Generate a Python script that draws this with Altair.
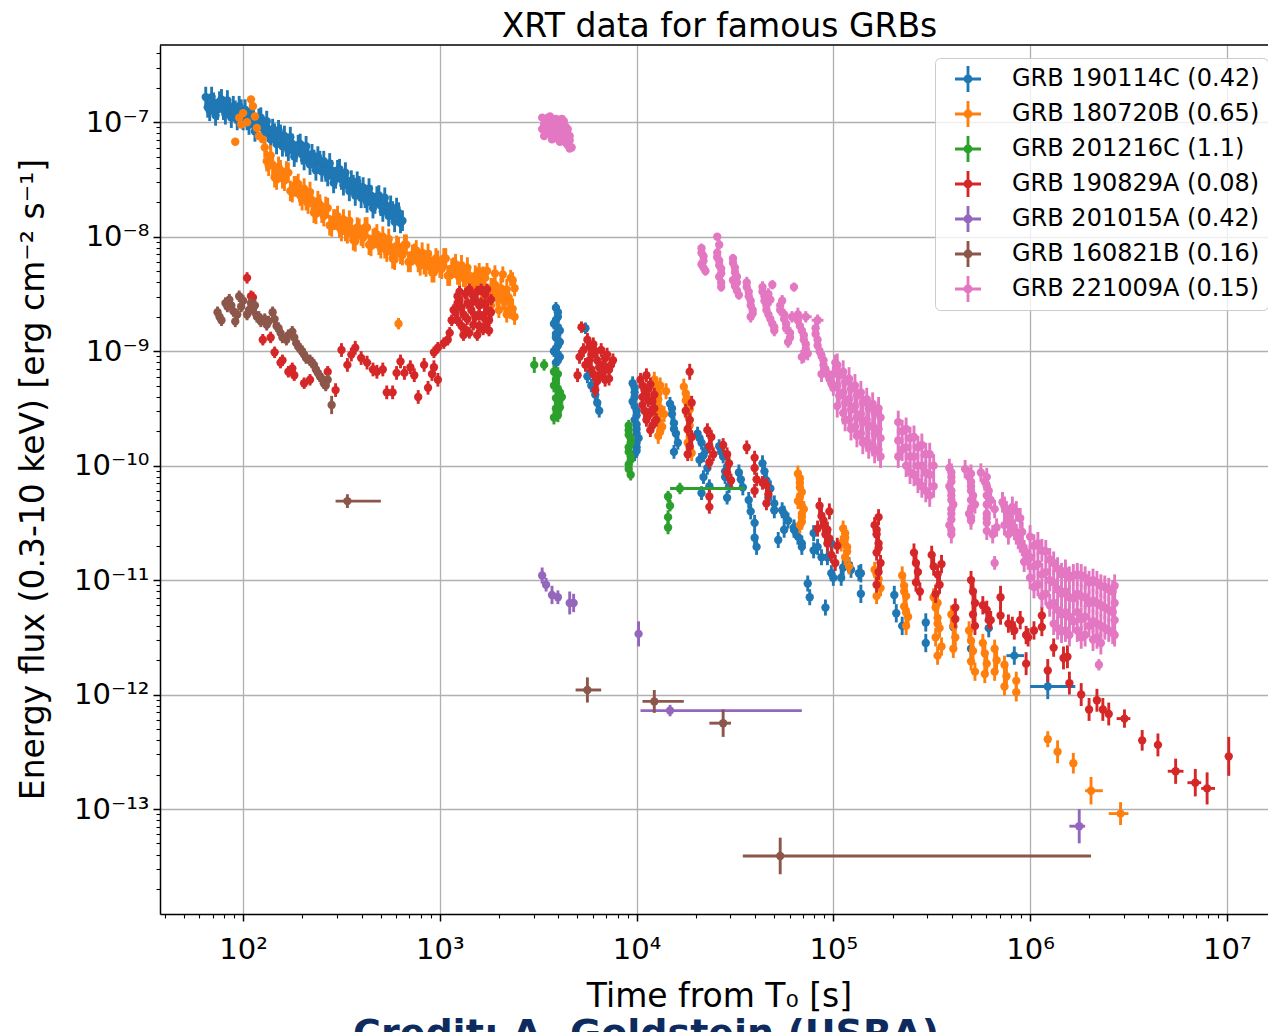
import json

import altair as alt
import pandas as pd

# Swift/XRT light curves of famous GRBs (redshift in brackets).
# Point lists: (log10 time from T0 [s], log10 energy flux [erg cm^-2 s^-1], 1-sigma flux error [dex])
# Binned points: (log10 t, log10 t_start, log10 t_stop, log10 flux, flux error [dex])

grb_names = [
    "GRB 190114C (0.42)",
    "GRB 180720B (0.65)",
    "GRB 201216C (1.1)",
    "GRB 190829A (0.08)",
    "GRB 201015A (0.42)",
    "GRB 160821B (0.16)",
    "GRB 221009A (0.15)",
]
grb_colors = ["#1f77b4", "#ff7f0e", "#2ca02c", "#d62728", "#9467bd", "#8c564b", "#e377c2"]

pts_190114C = [
    (1.81, -6.78, .09), (1.83, -6.90, .09), (1.85, -6.83, .09), (1.87, -6.89, .09), (1.89, -6.80, .09),
    (1.91, -6.93, .09), (1.93, -6.89, .09), (1.95, -6.86, .09), (1.97, -6.98, .09), (1.99, -6.89, .09),
    (2.01, -6.89, .09), (2.03, -7.02, .09), (2.05, -6.97, .09), (2.07, -7.04, .09), (2.09, -6.96, .09),
    (2.11, -7.10, .09), (2.13, -7.08, .09), (2.15, -7.06, .09), (2.17, -7.19, .09), (2.19, -7.11, .09),
    (2.21, -7.12, .09), (2.23, -7.25, .09), (2.25, -7.19, .09), (2.27, -7.26, .09), (2.29, -7.19, .09),
    (2.31, -7.33, .09), (2.33, -7.30, .09), (2.35, -7.28, .09), (2.37, -7.42, .09), (2.39, -7.34, .09),
    (2.41, -7.34, .09), (2.43, -7.47, .09), (2.45, -7.42, .09), (2.47, -7.49, .09), (2.49, -7.41, .09),
    (2.51, -7.55, .09), (2.53, -7.53, .09), (2.55, -7.51, .09), (2.57, -7.64, .09), (2.59, -7.56, .09),
    (2.61, -7.57, .09), (2.63, -7.70, .09), (2.65, -7.64, .09), (2.67, -7.71, .09), (2.69, -7.64, .09),
    (2.71, -7.78, .09), (2.73, -7.75, .09), (2.75, -7.73, .09), (2.77, -7.87, .09), (2.79, -7.79, .09),
    (2.81, -7.86, .09),
    (1.82, -6.87, .09), (1.84, -6.78, .09), (1.86, -6.94, .09), (1.88, -6.82, .09), (1.90, -6.89, .09),
    (1.92, -6.81, .09), (1.94, -6.96, .09), (1.96, -6.90, .09), (1.98, -6.86, .09), (2.00, -6.98, .09),
    (2.02, -6.98, .09), (2.04, -6.91, .09), (2.06, -7.08, .09), (2.08, -6.97, .09), (2.10, -7.05, .09),
    (2.12, -6.99, .09), (2.14, -7.15, .09), (2.16, -7.10, .09), (2.18, -7.07, .09), (2.20, -7.21, .09),
    (2.22, -7.21, .09), (2.24, -7.13, .09), (2.26, -7.30, .09), (2.28, -7.20, .09), (2.30, -7.28, .09),
    (2.32, -7.21, .09), (2.34, -7.37, .09), (2.36, -7.33, .09), (2.38, -7.30, .09), (2.40, -7.43, .09),
    (2.42, -7.43, .09), (2.44, -7.36, .09), (2.46, -7.53, .09), (2.48, -7.42, .09), (2.50, -7.50, .09),
    (2.52, -7.44, .09), (2.54, -7.60, .09), (2.56, -7.55, .09), (2.58, -7.52, .09), (2.60, -7.66, .09),
    (2.62, -7.66, .09), (2.64, -7.58, .09), (2.66, -7.75, .09), (2.68, -7.65, .09), (2.70, -7.73, .09),
    (2.72, -7.66, .09), (2.74, -7.82, .09), (2.76, -7.78, .09), (2.78, -7.75, .09), (2.80, -7.88, .09),
    (3.59, -8.62, .05), (3.60, -8.70, .05), (3.58, -8.76, .05), (3.61, -8.82, .05), (3.59, -8.88, .05),
    (3.60, -8.95, .05), (3.58, -9.00, .05), (3.61, -9.05, .05), (3.59, -9.10, .05),
    (3.60, -8.66, .05), (3.59, -8.73, .05), (3.60, -8.79, .05), (3.59, -8.85, .05), (3.61, -8.92, .05),
    (3.59, -8.98, .05), (3.60, -9.03, .05), (3.60, -9.08, .05),
    (3.74, -8.80, .05), (3.75, -9.22, .06), (3.77, -9.30, .06), (3.79, -9.38, .06), (3.80, -9.45, .06),
    (3.81, -9.52, .06),
    (3.98, -9.28, .06), (3.99, -9.36, .06), (3.98, -9.44, .06), (4.00, -9.52, .06), (3.99, -9.60, .06),
    (4.00, -9.68, .06), (4.01, -9.76, .06), (4.00, -9.84, .06), (3.99, -9.90, .06),
    (3.99, -9.32, .06), (3.99, -9.40, .06), (3.99, -9.48, .06), (4.00, -9.56, .06), (4.00, -9.64, .06),
    (4.00, -9.72, .06), (4.00, -9.80, .06), (4.00, -9.87, .06),
    (4.17, -9.46, .06), (4.18, -9.55, .06), (4.19, -9.63, .06), (4.20, -9.72, .06), (4.21, -9.80, .06),
    (4.19, -9.88, .06), (4.18, -9.50, .06), (4.19, -9.68, .06),
    (4.31, -9.72, .06), (4.33, -9.80, .06), (4.35, -9.87, .06), (4.32, -9.95, .06), (4.36, -10.02, .06),
    (4.34, -10.10, .06), (4.37, -10.18, .06), (4.33, -10.24, .06), (4.32, -9.76, .06), (4.34, -9.91, .06),
    (4.42, -9.83, .06), (4.44, -9.92, .06), (4.46, -10.01, .06), (4.45, -10.10, .06), (4.47, -10.18, .06),
    (4.46, -10.28, .06), (4.43, -9.88, .06), (4.45, -10.05, .06),
    (4.52, -10.06, .07), (4.54, -10.19, .07), (4.57, -10.30, .07), (4.60, -10.50, .07), (4.60, -10.63, .07),
    (4.61, -10.71, .07), (4.53, -10.12, .07), (4.58, -10.40, .07),
    (4.64, -9.98, .07), (4.66, -10.13, .07), (4.67, -10.28, .07), (4.70, -10.33, .07), (4.70, -10.39, .07),
    (4.72, -10.65, .07), (4.74, -10.39, .07), (4.75, -10.42, .07), (4.75, -10.56, .07), (4.80, -10.54, .07),
    (4.80, -10.56, .07), (4.84, -10.68, .07), (4.84, -10.71, .07), (4.87, -11.03, .07), (4.88, -11.15, .07),
    (4.90, -10.59, .07), (4.90, -10.74, .07), (4.92, -10.71, .07), (4.94, -10.80, .07), (4.96, -11.24, .07),
    (4.97, -10.80, .07), (4.99, -10.68, .07), (4.99, -10.94, .07), (5.00, -10.98, .07), (5.04, -10.98, .07),
    (5.05, -10.89, .07), (5.08, -10.87, .07), (5.09, -10.91, .07), (5.13, -10.94, .07), (5.14, -10.94, .08),
    (5.14, -11.12, .08), (4.65, -10.05, .07), (4.68, -10.20, .07), (4.77, -10.48, .07), (4.82, -10.62, .07),
    (5.31, -11.13, .08), (5.32, -11.29, .08), (5.35, -11.40, .08), (5.47, -11.37, .08), (5.47, -11.55, .08),
    (5.61, -11.41, .08), (5.70, -11.60, .08), (5.79, -11.42, .08),
]
bins_190114C = [(5.92, 5.88, 5.97, -11.66, .08), (6.09, 6.00, 6.23, -11.93, .11)]

pts_180720B = [
    (2.04, -6.80, .03), (2.05, -6.86, .03), (1.98, -6.96, .03), (2.00, -6.92, .03), (2.02, -7.00, .03),
    (1.99, -7.02, .03), (2.06, -6.95, .03), (2.07, -7.05, .03), (2.08, -7.12, .03), (2.10, -7.15, .03),
    (1.96, -7.17, .03),
    (2.11, -7.22, .09), (2.13, -7.38, .09), (2.15, -7.37, .09), (2.17, -7.50, .09), (2.19, -7.42, .09),
    (2.21, -7.51, .09), (2.23, -7.44, .09), (2.25, -7.61, .09), (2.27, -7.56, .09), (2.29, -7.64, .09),
    (2.31, -7.58, .09), (2.33, -7.71, .09), (2.35, -7.68, .09), (2.37, -7.80, .09), (2.39, -7.72, .09),
    (2.41, -7.82, .09), (2.43, -7.75, .09), (2.45, -7.91, .09), (2.47, -7.85, .09), (2.49, -7.92, .09),
    (2.51, -7.85, .09), (2.53, -7.97, .09), (2.55, -7.93, .09), (2.57, -8.04, .09), (2.59, -7.93, .09),
    (2.61, -8.01, .09), (2.63, -7.92, .09), (2.65, -8.08, .09), (2.67, -8.01, .09), (2.69, -8.07, .09),
    (2.71, -8.00, .09), (2.73, -8.13, .09), (2.75, -8.09, .09), (2.77, -8.20, .09), (2.79, -8.09, .09),
    (2.81, -8.16, .09), (2.83, -8.07, .09), (2.85, -8.22, .09), (2.87, -8.15, .09), (2.89, -8.22, .09),
    (2.91, -8.14, .09), (2.93, -8.26, .09), (2.95, -8.21, .09), (2.97, -8.31, .09), (2.99, -8.21, .09),
    (3.01, -8.28, .09), (3.03, -8.19, .09), (3.05, -8.34, .09), (3.07, -8.27, .09), (3.09, -8.33, .09),
    (3.11, -8.25, .09), (3.13, -8.38, .09), (3.15, -8.34, .09), (3.17, -8.45, .09), (3.19, -8.36, .09),
    (3.21, -8.44, .09), (3.23, -8.36, .09), (3.25, -8.51, .09), (3.27, -8.45, .09), (3.29, -8.52, .09),
    (3.31, -8.45, .09), (3.33, -8.57, .09), (3.35, -8.53, .09), (3.37, -8.63, .09),
    (2.12, -7.34, .09), (2.14, -7.29, .09), (2.16, -7.48, .09), (2.18, -7.39, .09), (2.20, -7.49, .09),
    (2.22, -7.43, .09), (2.24, -7.60, .09), (2.26, -7.56, .09), (2.28, -7.54, .09), (2.30, -7.68, .09),
    (2.32, -7.68, .09), (2.34, -7.61, .09), (2.36, -7.79, .09), (2.38, -7.69, .09), (2.40, -7.79, .09),
    (2.42, -7.74, .09), (2.44, -7.90, .09), (2.46, -7.85, .09), (2.48, -7.82, .09), (2.50, -7.95, .09),
    (2.52, -7.95, .09), (2.54, -7.86, .09), (2.56, -8.03, .09), (2.58, -7.92, .09), (2.60, -7.99, .09),
    (2.62, -7.92, .09), (2.64, -8.07, .09), (2.66, -8.02, .09), (2.68, -7.98, .09), (2.70, -8.10, .09),
    (2.72, -8.10, .09), (2.74, -8.02, .09), (2.76, -8.19, .09), (2.78, -8.08, .09), (2.80, -8.15, .09),
    (2.82, -8.07, .09), (2.84, -8.22, .09), (2.86, -8.16, .09), (2.88, -8.12, .09), (2.90, -8.25, .09),
    (2.92, -8.24, .09), (2.94, -8.15, .09), (2.96, -8.31, .09), (2.98, -8.19, .09), (3.00, -8.27, .09),
    (3.02, -8.19, .09), (3.04, -8.34, .09), (3.06, -8.28, .09), (3.08, -8.24, .09), (3.10, -8.36, .09),
    (3.12, -8.35, .09), (3.14, -8.27, .09), (3.16, -8.44, .09), (3.18, -8.34, .09), (3.20, -8.42, .09),
    (3.22, -8.35, .09), (3.24, -8.51, .09), (3.26, -8.45, .09), (3.28, -8.42, .09), (3.30, -8.55, .09),
    (3.32, -8.55, .09), (3.34, -8.46, .09), (3.36, -8.63, .09),
    (3.20, -8.30, .07), (3.24, -8.30, .07), (3.28, -8.32, .07), (3.32, -8.33, .07), (3.36, -8.36, .07),
    (3.22, -8.55, .07), (3.26, -8.60, .07), (3.30, -8.64, .07), (3.34, -8.68, .07), (3.38, -8.70, .07),
    (3.38, -8.45, .07), (3.37, -8.38, .07),
    (2.79, -8.76, .05),
    (4.09, -9.25, .07), (4.12, -9.30, .07), (4.10, -9.33, .07), (4.09, -9.40, .07), (4.11, -9.42, .07),
    (4.12, -9.50, .07), (4.10, -9.58, .07), (4.13, -9.66, .07), (4.11, -9.74, .07), (4.15, -9.35, .07),
    (4.14, -9.55, .07), (4.10, -9.29, .07), (4.11, -9.37, .07), (4.10, -9.46, .07), (4.12, -9.54, .07),
    (4.11, -9.62, .07), (4.12, -9.70, .07),
    (4.24, -9.31, .07), (4.25, -9.43, .07), (4.26, -9.42, .07), (4.27, -9.51, .07), (4.26, -9.69, .07),
    (4.26, -9.80, .07), (4.28, -9.89, .07), (4.27, -9.60, .07), (4.25, -9.37, .07), (4.26, -9.47, .07),
    (4.26, -9.56, .07), (4.27, -9.65, .07), (4.27, -9.75, .07), (4.27, -9.85, .07),
    (4.82, -10.07, .07), (4.83, -10.15, .07), (4.84, -10.23, .07), (4.82, -10.31, .07), (4.85, -10.38, .07),
    (4.84, -10.45, .07), (4.83, -10.52, .07), (4.83, -10.11, .07), (4.83, -10.19, .07), (4.83, -10.27, .07),
    (4.84, -10.35, .07), (4.84, -10.42, .07), (4.84, -10.49, .07),
    (5.05, -10.55, .07), (5.06, -10.63, .07), (5.07, -10.71, .07), (5.06, -10.80, .07), (5.08, -10.88, .07),
    (5.04, -10.68, .07), (5.06, -10.59, .07), (5.07, -10.75, .07),
    (5.21, -10.91, .07), (5.23, -10.99, .07), (5.24, -11.07, .07), (5.22, -11.14, .07), (5.22, -10.95, .07),
    (5.35, -10.96, .08), (5.36, -11.05, .08), (5.37, -11.14, .08), (5.36, -11.23, .08), (5.38, -11.32, .08),
    (5.37, -11.40, .08), (5.36, -11.10, .08), (5.37, -11.28, .08),
    (5.51, -11.15, .08), (5.52, -11.24, .08), (5.53, -11.33, .08), (5.54, -11.42, .08), (5.52, -11.50, .08),
    (5.55, -11.58, .08), (5.53, -11.66, .08), (5.53, -11.20, .08), (5.53, -11.38, .08),
    (5.60, -11.30, .08), (5.61, -11.40, .08), (5.62, -11.50, .08), (5.61, -11.60, .08),
    (5.69, -11.44, .08), (5.70, -11.53, .08), (5.71, -11.62, .08), (5.70, -11.71, .08), (5.72, -11.80, .08),
    (5.76, -11.55, .08), (5.77, -11.64, .08), (5.78, -11.73, .08), (5.77, -11.82, .08),
    (5.82, -11.60, .08), (5.83, -11.70, .08), (5.82, -11.80, .08),
    (5.87, -11.74, .08), (5.88, -11.84, .08), (5.87, -11.93, .08),
    (5.93, -11.88, .08), (5.93, -11.98, .08),
    (6.09, -12.39, .07), (6.14, -12.50, .10), (6.22, -12.60, .09),
]
bins_180720B = [(6.31, 6.28, 6.37, -12.84, .12), (6.46, 6.40, 6.50, -13.04, .10)]

pts_201216C = [
    (3.48, -9.12, .07), (3.53, -9.12, .05), (3.58, -9.18, .06), (3.59, -9.25, .06), (3.60, -9.33, .06),
    (3.58, -9.30, .06), (3.59, -9.41, .06), (3.62, -9.40, .06), (3.61, -9.49, .06), (3.60, -9.56, .06),
    (3.59, -9.50, .06), (3.60, -9.20, .06), (3.59, -9.28, .06), (3.61, -9.36, .06), (3.60, -9.45, .06),
    (3.60, -9.52, .06), (3.58, -9.58, .06),
    (3.96, -9.65, .05), (3.96, -9.73, .05), (3.97, -9.80, .05), (3.96, -9.88, .05), (3.97, -9.95, .05),
    (3.96, -10.03, .05), (3.97, -10.08, .05), (3.96, -9.69, .05), (3.97, -9.76, .05), (3.96, -9.84, .05),
    (3.97, -9.92, .05), (3.96, -9.99, .05),
    (4.16, -10.27, .05), (4.17, -10.35, .05), (4.16, -10.45, .06), (4.16, -10.54, .06),
]
bins_201216C = [(4.22, 4.17, 4.55, -10.20, .05)]

pts_190829A = [
    (2.02, -8.36, .05), (2.04, -8.52, .05), (2.05, -8.53, .05), (2.10, -8.90, .05), (2.14, -8.88, .05),
    (2.16, -9.01, .05), (2.19, -9.10, .05), (2.20, -9.08, .05), (2.23, -9.18, .05), (2.25, -9.15, .05),
    (2.26, -9.21, .05), (2.31, -9.28, .05), (2.34, -9.25, .05), (2.43, -9.18, .05), (2.47, -9.34, .06),
    (2.50, -8.99, .06), (2.53, -9.12, .06), (2.55, -9.03, .06), (2.57, -8.97, .06), (2.60, -9.06, .06),
    (2.63, -9.10, .06), (2.66, -9.16, .06), (2.68, -9.18, .06), (2.71, -9.16, .06), (2.73, -9.36, .06),
    (2.76, -9.36, .06), (2.78, -9.19, .06), (2.80, -9.09, .06), (2.82, -9.19, .06), (2.85, -9.14, .06),
    (2.87, -9.21, .06), (2.89, -9.40, .06), (2.92, -9.12, .06), (2.94, -9.32, .06), (2.96, -9.20, .06),
    (2.97, -9.14, .06), (2.99, -9.25, .06),
    (2.97, -9.01, .05), (2.99, -8.97, .05), (3.02, -8.93, .05), (3.04, -8.90, .05), (3.05, -8.84, .05),
    (3.06, -8.73, .05), (3.07, -8.64, .05), (3.09, -8.58, .05), (3.09, -8.52, .05),
    (3.10, -8.55, .05), (3.12, -8.68, .05), (3.13, -8.81, .05), (3.15, -8.46, .05), (3.16, -8.64, .05),
    (3.17, -8.77, .05), (3.18, -8.55, .05), (3.20, -8.68, .05), (3.21, -8.46, .05), (3.22, -8.81, .05),
    (3.23, -8.59, .05), (3.24, -8.46, .05), (3.25, -8.73, .05), (3.26, -8.55, .05), (3.12, -8.86, .05),
    (3.19, -8.86, .05), (3.09, -8.73, .05), (3.14, -8.58, .05), (3.20, -8.60, .05), (3.23, -8.78, .05),
    (3.11, -8.62, .05), (3.13, -8.50, .05), (3.14, -8.72, .05), (3.15, -8.84, .05), (3.17, -8.52, .05),
    (3.18, -8.70, .05), (3.19, -8.48, .05), (3.21, -8.58, .05), (3.22, -8.70, .05), (3.23, -8.50, .05),
    (3.24, -8.64, .05), (3.25, -8.82, .05), (3.26, -8.66, .05), (3.20, -8.78, .05), (3.16, -8.58, .05),
    (3.11, -8.78, .05), (3.08, -8.66, .05), (3.10, -8.48, .05),
    (3.72, -8.79, .05), (3.70, -9.21, .06), (3.73, -8.99, .06), (3.75, -8.90, .06), (3.77, -9.03, .06),
    (3.78, -8.94, .06), (3.80, -9.08, .06), (3.82, -8.99, .06), (3.83, -9.12, .06), (3.85, -9.03, .06),
    (3.86, -9.16, .06), (3.88, -9.08, .06), (3.81, -9.21, .06), (3.77, -9.16, .06), (3.84, -9.25, .06),
    (3.74, -9.12, .06), (3.79, -9.34, .06), (3.71, -9.05, .06), (3.76, -8.96, .06), (3.79, -9.00, .06),
    (3.81, -9.14, .06), (3.84, -9.06, .06), (3.87, -9.12, .06), (3.83, -9.18, .06), (3.76, -9.08, .06),
    (3.80, -9.26, .06), (3.86, -9.24, .06), (3.78, -9.20, .06),
    (4.02, -9.25, .06), (4.04, -9.34, .06), (4.05, -9.21, .06), (4.06, -9.43, .06), (4.07, -9.29, .06),
    (4.08, -9.51, .06), (4.09, -9.38, .06), (4.05, -9.60, .06), (4.07, -9.69, .06), (4.10, -9.60, .06),
    (4.03, -9.47, .06), (4.03, -9.30, .06), (4.05, -9.38, .06), (4.06, -9.33, .06), (4.08, -9.44, .06),
    (4.04, -9.52, .06), (4.09, -9.50, .06), (4.06, -9.56, .06), (4.08, -9.65, .06), (4.03, -9.40, .06),
    (4.27, -9.18, .07),
    (4.25, -9.52, .06), (4.27, -9.60, .06), (4.26, -9.68, .06), (4.28, -9.75, .06), (4.27, -9.83, .06),
    (4.26, -9.90, .06), (4.28, -9.45, .06),
    (4.36, -9.69, .06), (4.38, -9.75, .06), (4.37, -9.83, .06), (4.39, -9.90, .06), (4.37, -9.97, .06),
    (4.37, -10.27, .06), (4.37, -10.36, .06),
    (4.44, -9.82, .06), (4.46, -9.90, .06), (4.47, -9.98, .06), (4.46, -10.06, .06), (4.48, -10.13, .06),
    (4.56, -9.84, .06), (4.60, -9.93, .06), (4.60, -10.02, .06), (4.61, -10.12, .06), (4.60, -10.22, .06),
    (4.64, -10.15, .06), (4.66, -10.17, .06), (4.67, -10.25, .06), (4.66, -10.33, .06),
    (4.93, -10.35, .07), (4.94, -10.44, .07), (4.95, -10.52, .07), (4.96, -10.60, .07), (4.97, -10.68, .07),
    (4.99, -10.78, .07), (5.01, -10.85, .07), (4.98, -10.40, .07), (4.92, -10.55, .07), (5.02, -10.70, .07),
    (4.95, -10.48, .07), (4.97, -10.56, .07), (4.98, -10.64, .07),
    (5.23, -10.45, .07), (5.21, -10.52, .07), (5.22, -10.60, .07), (5.23, -10.68, .07), (5.22, -10.76, .07),
    (5.24, -10.85, .07), (5.23, -10.93, .07), (5.22, -11.04, .07), (5.22, -10.56, .07), (5.23, -10.72, .07),
    (5.41, -10.76, .08), (5.42, -10.85, .08), (5.43, -10.93, .08), (5.42, -11.02, .08), (5.44, -11.10, .08),
    (5.50, -10.78, .08), (5.51, -10.88, .08), (5.53, -10.95, .08), (5.54, -11.04, .08), (5.52, -11.12, .08),
    (5.55, -10.86, .08),
    (5.62, -11.24, .08), (5.62, -11.34, .08),
    (5.70, -11.00, .08), (5.71, -11.10, .08), (5.72, -11.20, .08), (5.71, -11.30, .08), (5.72, -11.40, .08),
    (5.76, -11.22, .08), (5.78, -11.26, .08), (5.79, -11.35, .08), (5.80, -11.35, .08),
    (5.85, -11.15, .10), (5.85, -11.31, .08), (5.89, -11.38, .08), (5.91, -11.40, .08), (5.92, -11.44, .08),
    (5.95, -11.35, .08), (5.98, -11.48, .08), (5.99, -11.50, .08), (6.02, -11.44, .08), (6.06, -11.31, .08),
    (6.06, -11.41, .08),
    (5.98, -11.73, .10), (6.09, -11.79, .10), (6.12, -11.59, .08), (6.17, -11.68, .10), (6.19, -11.67, .10),
    (6.20, -11.90, .10), (6.26, -12.00, .10), (6.30, -12.13, .10), (6.34, -12.05, .10), (6.37, -12.13, .10),
    (6.40, -12.17, .10), (6.57, -12.40, .09), (6.65, -12.44, .10), (7.01, -12.54, .17),
]
bins_190829A = [
    (6.48, 6.44, 6.51, -12.21, .08), (6.74, 6.70, 6.78, -12.67, .11),
    (6.84, 6.80, 6.87, -12.77, .12), (6.90, 6.87, 6.94, -12.82, .14),
]

pts_201015A = [
    (3.52, -10.96, .07), (3.54, -11.04, .06), (3.57, -11.13, .08), (3.60, -11.15, .06),
    (3.66, -11.20, .10), (3.68, -11.20, .08), (4.01, -11.47, .11),
]
bins_201015A = [(4.17, 4.02, 4.84, -12.14, .05), (6.25, 6.20, 6.28, -13.15, .15)]

pts_160821B = [
    (1.87, -8.66, .05), (1.89, -8.73, .05), (1.92, -8.61, .05), (1.93, -8.55, .05), (1.95, -8.65, .05),
    (1.96, -8.74, .05), (1.98, -8.52, .05), (1.99, -8.61, .05), (2.02, -8.68, .05), (2.04, -8.58, .05),
    (2.05, -8.64, .05), (2.07, -8.70, .05), (2.09, -8.74, .05), (2.12, -8.77, .05), (2.15, -8.66, .05),
    (2.17, -8.78, .05), (2.19, -8.84, .05), (2.22, -8.90, .05), (2.25, -8.83, .05), (2.27, -8.93, .05),
    (2.29, -8.98, .05), (2.31, -9.03, .05), (2.34, -9.08, .05), (2.36, -9.12, .05), (2.38, -9.19, .05),
    (2.39, -9.22, .05), (2.41, -9.28, .05), (2.43, -9.25, .05), (2.45, -9.47, .08),
    (1.88, -8.70, .05), (1.91, -8.58, .05), (1.94, -8.60, .05), (1.97, -8.68, .05), (2.00, -8.56, .05),
    (2.03, -8.64, .05), (2.06, -8.60, .05), (2.08, -8.70, .05), (2.11, -8.72, .05), (2.13, -8.74, .05),
    (2.16, -8.72, .05), (2.18, -8.80, .05), (2.20, -8.88, .05), (2.23, -8.86, .05), (2.26, -8.88, .05),
    (2.28, -8.96, .05), (2.30, -9.00, .05), (2.32, -9.06, .05), (2.35, -9.10, .05), (2.37, -9.16, .05),
    (2.40, -9.24, .05), (2.42, -9.30, .05),
]
bins_160821B = [
    (2.53, 2.47, 2.70, -10.31, .06), (3.75, 3.69, 3.82, -11.96, .11), (4.09, 4.03, 4.24, -12.06, .10),
    (4.44, 4.37, 4.48, -12.25, .12), (4.73, 4.54, 6.31, -13.41, .16),
]

pts_221009A = [
    (3.52, -6.96, .02), (3.52, -7.06, .02), (3.53, -7.12, .02), (3.54, -6.98, .02), (3.55, -7.04, .02),
    (3.56, -6.95, .02), (3.56, -7.10, .02), (3.57, -7.00, .02), (3.58, -7.06, .02), (3.58, -7.14, .02),
    (3.59, -6.97, .02), (3.60, -7.03, .02), (3.60, -7.10, .02), (3.61, -7.17, .02), (3.62, -6.97, .02),
    (3.62, -7.06, .02), (3.63, -7.12, .02), (3.64, -7.04, .02), (3.64, -7.18, .02), (3.65, -7.10, .02),
    (3.66, -7.16, .02), (3.67, -7.22, .02), (3.66, -7.23, .02),
    (3.53, -7.02, .02), (3.54, -7.08, .02), (3.55, -6.96, .02), (3.57, -7.08, .02), (3.58, -7.01, .02),
    (3.59, -7.12, .02), (3.61, -7.00, .02), (3.61, -7.07, .02), (3.63, -6.99, .02), (3.63, -7.16, .02),
    (3.65, -7.06, .02), (3.65, -7.20, .02), (3.66, -7.12, .02), (3.62, -7.14, .02), (3.57, -7.15, .02),
    (4.33, -8.10, .04), (4.34, -8.17, .04), (4.33, -8.24, .04), (4.35, -8.30, .04), (4.41, -8.00, .03),
    (4.33, -8.14, .04), (4.34, -8.21, .04), (4.34, -8.27, .04),
    (4.41, -8.14, .04), (4.42, -8.21, .04), (4.43, -8.28, .04), (4.42, -8.35, .04), (4.43, -8.44, .04),
    (4.42, -8.07, .04), (4.41, -8.18, .04), (4.42, -8.25, .04), (4.43, -8.32, .04), (4.43, -8.40, .04),
    (4.49, -8.19, .04), (4.50, -8.27, .04), (4.51, -8.35, .04), (4.50, -8.43, .04), (4.52, -8.51, .04),
    (4.49, -8.38, .04), (4.49, -8.23, .04), (4.50, -8.31, .04), (4.51, -8.40, .04), (4.51, -8.47, .04),
    (4.56, -8.40, .05), (4.57, -8.48, .05), (4.58, -8.56, .05), (4.59, -8.64, .05), (4.58, -8.70, .05),
    (4.56, -8.44, .05), (4.57, -8.52, .05), (4.58, -8.60, .05), (4.59, -8.67, .05),
    (4.64, -8.44, .05), (4.65, -8.52, .05), (4.66, -8.60, .05), (4.67, -8.68, .05), (4.69, -8.76, .05),
    (4.70, -8.82, .05), (4.68, -8.55, .05), (4.69, -8.42, .04), (4.80, -8.44, .04),
    (4.64, -8.48, .05), (4.65, -8.56, .05), (4.66, -8.64, .05), (4.68, -8.72, .05), (4.70, -8.79, .05),
    (4.67, -8.50, .05),
    (4.73, -8.60, .05), (4.75, -8.68, .05), (4.76, -8.76, .05), (4.78, -8.84, .05), (4.77, -8.92, .05),
    (4.79, -8.70, .05), (4.73, -8.64, .05), (4.75, -8.72, .05), (4.76, -8.80, .05), (4.78, -8.88, .05),
    (4.74, -8.56, .05),
    (4.82, -8.68, .06), (4.83, -8.78, .06), (4.85, -8.86, .06), (4.86, -8.94, .06), (4.87, -9.02, .06),
    (4.84, -9.05, .06), (4.82, -8.73, .06), (4.84, -8.82, .06), (4.85, -8.90, .06), (4.86, -8.98, .06),
    (4.85, -9.04, .06),
    (4.91, -8.80, .07), (4.92, -8.90, .07), (4.93, -9.00, .07), (4.95, -9.08, .07), (4.96, -9.16, .07),
    (4.98, -9.24, .07), (5.00, -9.32, .07), (4.94, -9.20, .07), (5.01, -9.10, .07),
    (4.91, -8.85, .07), (4.92, -8.95, .07), (4.94, -9.04, .07), (4.95, -9.12, .07), (4.97, -9.20, .07),
    (4.99, -9.28, .07), (5.00, -9.20, .07),
    (5.02, -9.12, .10), (5.02, -9.30, .10), (5.02, -9.48, .10), (5.05, -9.18, .10), (5.05, -9.36, .10),
    (5.05, -9.54, .10), (5.08, -9.24, .10), (5.08, -9.42, .10), (5.08, -9.60, .10), (5.11, -9.30, .10),
    (5.11, -9.48, .10), (5.11, -9.66, .10), (5.14, -9.36, .10), (5.14, -9.55, .10), (5.14, -9.72, .10),
    (5.17, -9.42, .10), (5.17, -9.60, .10), (5.17, -9.78, .10), (5.20, -9.46, .10), (5.20, -9.65, .10),
    (5.20, -9.82, .10), (5.23, -9.50, .10), (5.23, -9.68, .10), (5.23, -9.86, .10),
    (5.03, -9.21, .10), (5.03, -9.39, .10), (5.06, -9.27, .10), (5.06, -9.45, .10), (5.06, -9.60, .10),
    (5.09, -9.33, .10), (5.09, -9.51, .10), (5.09, -9.68, .10), (5.12, -9.39, .10), (5.12, -9.58, .10),
    (5.12, -9.74, .10), (5.15, -9.45, .10), (5.15, -9.62, .10), (5.15, -9.80, .10), (5.18, -9.50, .10),
    (5.18, -9.66, .10), (5.18, -9.84, .10), (5.21, -9.54, .10), (5.21, -9.72, .10), (5.21, -9.88, .10),
    (5.24, -9.58, .10), (5.24, -9.76, .10), (5.24, -9.92, .10),
    (5.33, -9.62, .10), (5.33, -9.78, .10), (5.33, -9.92, .10), (5.37, -9.68, .10), (5.37, -9.84, .10),
    (5.37, -10.00, .10), (5.41, -9.75, .10), (5.41, -9.92, .10), (5.41, -10.08, .10), (5.45, -9.82, .10),
    (5.45, -10.00, .10), (5.45, -10.18, .10), (5.49, -9.90, .10), (5.49, -10.08, .10), (5.49, -10.26, .10),
    (5.35, -9.70, .10), (5.35, -9.86, .10), (5.39, -9.76, .10), (5.39, -9.92, .10), (5.39, -10.06, .10),
    (5.43, -9.84, .10), (5.43, -10.00, .10), (5.43, -10.14, .10), (5.47, -9.90, .10), (5.47, -10.06, .10),
    (5.47, -10.22, .10), (5.51, -10.00, .10), (5.51, -10.18, .10),
    (5.59, -10.02, .08), (5.60, -10.10, .08), (5.59, -10.18, .08), (5.60, -10.26, .08), (5.61, -10.34, .08),
    (5.60, -10.42, .08), (5.59, -10.52, .08), (5.60, -10.60, .08),
    (5.60, -10.06, .08), (5.60, -10.14, .08), (5.60, -10.22, .08), (5.60, -10.30, .08), (5.60, -10.38, .08),
    (5.60, -10.47, .08), (5.60, -10.56, .08),
    (5.67, -10.03, .08), (5.69, -10.10, .08), (5.70, -10.18, .08), (5.71, -10.26, .08), (5.72, -10.34, .08),
    (5.69, -10.42, .08), (5.70, -10.48, .08),
    (5.70, -10.07, .08), (5.70, -10.14, .08), (5.70, -10.22, .08), (5.70, -10.30, .08), (5.70, -10.38, .08),
    (5.70, -10.45, .08),
    (5.75, -10.06, .08), (5.77, -10.14, .08), (5.79, -10.22, .08), (5.80, -10.30, .08), (5.82, -10.38, .08),
    (5.78, -10.46, .08), (5.83, -10.54, .08), (5.81, -10.60, .08), (5.82, -10.85, .06),
    (5.78, -10.10, .08), (5.78, -10.18, .08), (5.78, -10.26, .08), (5.78, -10.34, .08), (5.78, -10.42, .08),
    (5.78, -10.50, .08), (5.78, -10.57, .08),
    (5.86, -10.32, .09), (5.88, -10.40, .09), (5.90, -10.48, .09), (5.92, -10.56, .09), (5.94, -10.64, .09),
    (5.96, -10.70, .09), (5.98, -10.78, .09), (5.89, -10.60, .09), (5.95, -10.46, .09), (5.91, -10.36, .09),
    (5.97, -10.84, .09), (5.87, -10.52, .09),
    (5.87, -10.36, .09), (5.89, -10.44, .09), (5.91, -10.52, .09), (5.93, -10.60, .09), (5.95, -10.67, .09),
    (5.97, -10.74, .09), (5.99, -10.82, .09), (5.93, -10.40, .09), (5.96, -10.58, .09),
    (6.00, -10.62, .10), (6.00, -10.80, .10), (6.00, -10.98, .10),
    (6.02, -10.70, .10), (6.02, -10.88, .10), (6.02, -11.06, .10),
    (6.04, -10.68, .10), (6.04, -10.86, .10), (6.04, -11.04, .10),
    (6.06, -10.74, .10), (6.06, -10.95, .10), (6.06, -11.14, .10),
    (6.08, -10.75, .10), (6.08, -10.93, .10), (6.08, -11.12, .10),
    (6.10, -10.82, .10), (6.10, -11.00, .10), (6.10, -11.22, .10),
    (6.12, -10.85, .10), (6.12, -11.02, .10), (6.12, -11.20, .10), (6.12, -11.38, .10),
    (6.14, -10.90, .10), (6.14, -11.08, .10), (6.14, -11.26, .10), (6.14, -11.42, .10),
    (6.16, -10.95, .10), (6.16, -11.12, .10), (6.16, -11.30, .10), (6.16, -11.45, .10),
    (6.18, -10.92, .10), (6.18, -11.10, .10), (6.18, -11.28, .10), (6.18, -11.44, .10),
    (6.20, -10.98, .10), (6.20, -11.15, .10), (6.20, -11.32, .10), (6.20, -11.48, .10),
    (6.22, -10.96, .10), (6.22, -11.16, .10), (6.22, -11.36, .10),
    (6.24, -10.95, .10), (6.24, -11.12, .10), (6.24, -11.28, .10), (6.24, -11.44, .10),
    (6.26, -10.96, .10), (6.26, -11.14, .10), (6.26, -11.34, .10), (6.26, -11.50, .10),
    (6.28, -10.98, .10), (6.28, -11.15, .10), (6.28, -11.32, .10), (6.28, -11.48, .10),
    (6.30, -11.02, .10), (6.30, -11.20, .10), (6.30, -11.40, .10),
    (6.32, -11.00, .10), (6.32, -11.18, .10), (6.32, -11.36, .10), (6.32, -11.52, .10),
    (6.34, -11.02, .10), (6.34, -11.20, .10), (6.34, -11.38, .10), (6.34, -11.50, .10),
    (6.36, -11.05, .10), (6.36, -11.22, .10), (6.36, -11.40, .10), (6.36, -11.55, .10),
    (6.38, -11.06, .10), (6.38, -11.24, .10), (6.38, -11.42, .10),
    (6.40, -11.08, .10), (6.40, -11.26, .10), (6.40, -11.44, .10),
    (6.42, -11.10, .10), (6.42, -11.28, .10), (6.42, -11.46, .10),
    (6.43, -11.05, .10), (6.43, -11.20, .10), (6.43, -11.35, .10), (6.43, -11.48, .10),
    (6.35, -11.74, .05),
]
bins_221009A = [(4.86, 4.83, 4.89, -8.70, .05), (4.92, 4.89, 4.95, -8.73, .05)]

series = [
    (grb_names[0], pts_190114C, bins_190114C),
    (grb_names[1], pts_180720B, bins_180720B),
    (grb_names[2], pts_201216C, bins_201216C),
    (grb_names[3], pts_190829A, bins_190829A),
    (grb_names[4], pts_201015A, bins_201015A),
    (grb_names[5], pts_160821B, bins_160821B),
    (grb_names[6], pts_221009A, bins_221009A),
]

# Axis ticks
x_major = [1e2, 1e3, 1e4, 1e5, 1e6, 1e7]
x_major_labels = ["10²", "10³", "10⁴", "10⁵", "10⁶", "10⁷"]
y_major = [1e-13, 1e-12, 1e-11, 1e-10, 1e-9, 1e-8, 1e-7]
y_major_labels = ["10⁻¹³", "10⁻¹²", "10⁻¹¹", "10⁻¹⁰", "10⁻⁹", "10⁻⁸", "10⁻⁷"]
x_domain = [37.8, 1.62e7]
y_domain = [1.21e-14, 4.73e-7]

title_text = "XRT data for famous GRBs"
credit_text = "Credit: A. Goldstein (USRA)"

# ---------------------------------------------------------------------------
rows = []
for name, pts, bins in series:
    for lt, lf, le in pts:
        rows.append({"grb": name, "t": 10 ** lt, "flux": 10 ** lf,
                     "flux_lo": 10 ** (lf - le), "flux_hi": 10 ** (lf + le),
                     "t_lo": None, "t_hi": None})
    for lt, lo, hi, lf, le in bins:
        rows.append({"grb": name, "t": 10 ** lt, "flux": 10 ** lf,
                     "flux_lo": 10 ** (lf - le), "flux_hi": 10 ** (lf + le),
                     "t_lo": 10 ** lo, "t_hi": 10 ** hi})
df = pd.DataFrame(rows)


def minor_ticks(lo, hi):
    out = []
    for k in range(-15, 9):
        for m in range(2, 10):
            v = m * 10.0 ** k
            if lo <= v <= hi:
                out.append(v)
    return out


def label_expr(values, labels):
    expr = "''"
    for v, s in zip(values, labels):
        expr = f"datum.value == {v!r} ? '{s}' : ({expr})"
    return expr


def is_major(values):
    return f"indexof({json.dumps(values)}, datum.value) >= 0"


FONT = "DejaVu Sans"
W, H = 1108, 869
BAR_W = 2.9


def make_axis(major, labels, minor, **kw):
    test = is_major(major)
    return alt.Axis(
        values=sorted(major + minor),
        labelExpr=label_expr(major, labels),
        grid=True,
        gridColor="#b0b0b0",
        gridWidth=1.3,
        gridOpacity={"condition": {"test": test, "value": 1}, "value": 0},
        tickSize={"condition": {"test": test, "value": 7}, "value": 4},
        tickWidth={"condition": {"test": test, "value": 1.5}, "value": 1.1},
        tickColor="black",
        domainColor="black",
        domainWidth=1.5,
        labelFont=FONT,
        labelFontSize=29,
        labelColor="black",
        labelOverlap=False,
        labelFlush=False,
        titleFont=FONT,
        titleFontSize=33,
        titleFontWeight="normal",
        titleColor="black",
        **kw,
    )


x_axis = make_axis(x_major, x_major_labels, minor_ticks(*x_domain),
                   labelPadding=14, titleX=559, titleY=92, titleBaseline="alphabetic",
                   titleAlign="center")
y_axis = make_axis(y_major, y_major_labels, minor_ticks(*y_domain),
                   labelPadding=4, titleX=-127, titleY=434, titleAngle=270,
                   titleAlign="center", titleBaseline="middle")

x_scale = alt.Scale(type="log", domain=x_domain, nice=False)
y_scale = alt.Scale(type="log", domain=y_domain, nice=False)
X_TITLE = "Time from T₀ [s]"
Y_TITLE = "Energy flux (0.3-10 keV) [erg cm⁻² s⁻¹]"

# errorbar-style legend glyph: horizontal and vertical bar with a dot in the middle
CROSS = ("M-1,-0.11H1V0.11H-1Z M-0.11,-1H0.11V1H-0.11Z "
         "M0.34,0A0.34,0.34,0,1,1,-0.34,0A0.34,0.34,0,1,1,0.34,0Z")

legend = alt.Legend(
    title=None, orient="none", legendX=775, legendY=13,
    symbolType=CROSS, symbolSize=676, symbolStrokeWidth=0, symbolOpacity=1,
    symbolOffset=12, labelOffset=31, labelLimit=400,
    labelFont=FONT, labelFontSize=24, labelColor="black",
    rowPadding=9, padding=8,
    fillColor="rgba(255,255,255,0.8)", strokeColor="#cccccc", cornerRadius=5,
)
color = alt.Color("grb:N", scale=alt.Scale(domain=grb_names, range=grb_colors), legend=legend)

base = alt.Chart(df)
layers = []
for name, col in zip(grb_names, grb_colors):
    sub = base.transform_filter(alt.datum.grb == name)
    vbar = sub.mark_rule(color=col, strokeWidth=BAR_W).encode(
        x=alt.X("t:Q", scale=x_scale, axis=x_axis, title=X_TITLE),
        y=alt.Y("flux_lo:Q", scale=y_scale, axis=y_axis, title=Y_TITLE),
        y2="flux_hi:Q",
    )
    hbar = sub.transform_filter("isValid(datum.t_lo)").mark_rule(color=col, strokeWidth=BAR_W).encode(
        x=alt.X("t_lo:Q", scale=x_scale, axis=x_axis, title=X_TITLE),
        x2="t_hi:Q",
        y=alt.Y("flux:Q", scale=y_scale, axis=y_axis, title=Y_TITLE),
    )
    dots = sub.mark_circle(size=70, opacity=1).encode(
        x=alt.X("t:Q", scale=x_scale, axis=x_axis, title=X_TITLE),
        y=alt.Y("flux:Q", scale=y_scale, axis=y_axis, title=Y_TITLE),
        color=color,
    )
    layers += [vbar, hbar, dots]

# top spine of the frame
top_spine = alt.Chart(pd.DataFrame({"k": [0]})).mark_rule(color="black", strokeWidth=1.5).encode(
    x=alt.value(0), x2=alt.value(W), y=alt.value(0)
)

title = alt.Chart(pd.DataFrame({"text": [title_text]})).mark_text(
    font=FONT, fontSize=33, color="black", align="center", baseline="alphabetic"
).encode(text="text:N", x=alt.value(559.5), y=alt.value(-8))

credit = alt.Chart(pd.DataFrame({"text": [credit_text]})).mark_text(
    font=FONT, fontSize=38, fontWeight="bold", color="#0d2b5e", align="center", baseline="alphabetic"
).encode(text="text:N", x=alt.value(486), y=alt.value(1001))

chart = (
    alt.layer(*layers, top_spine, title, credit)
    .properties(
        width=W,
        height=H,
        autosize=alt.AutoSizeParams(type="none"),
        padding={"left": 160, "top": 45, "right": 0, "bottom": 118},
        background="white",
    )
    .configure_view(stroke="transparent")
)

chart.save("out.html", embed_options={"renderer": "svg", "actions": False})
